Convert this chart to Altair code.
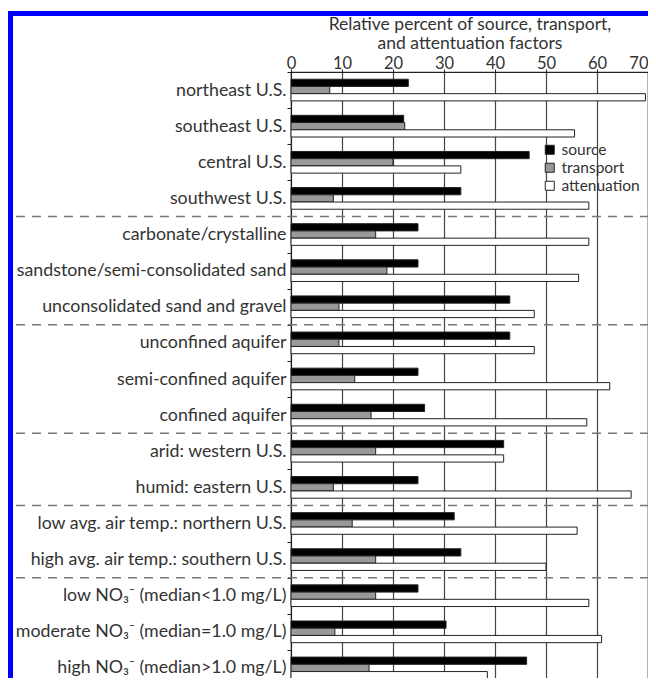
import altair as alt
import pandas as pd

categories = [
    "northeast U.S.", "southeast U.S.", "central U.S.", "southwest U.S.",
    "carbonate/crystalline", "sandstone/semi-consolidated sand", "unconsolidated sand and gravel",
    "unconfined aquifer", "semi-confined aquifer", "confined aquifer",
    "arid: western U.S.", "humid: eastern U.S.",
    "low avg. air temp.: northern U.S.", "high avg. air temp.: southern U.S.",
    "low NO\u2083\u207b (median<1.0 mg/L)", "moderate NO\u2083\u207b (median=1.0 mg/L)",
    "high NO\u2083\u207b (median>1.0 mg/L)",
]
source = [23.0, 22.1, 46.7, 33.3, 24.9, 24.9, 42.9, 42.9, 24.9, 26.2, 41.7, 24.9, 32.0, 33.3, 24.9, 30.4, 46.2]
transport = [7.6, 22.3, 20.0, 8.3, 16.6, 18.8, 9.4, 9.4, 12.5, 15.7, 16.6, 8.3, 12.0, 16.6, 16.6, 8.6, 15.3]
attenuation = [69.5, 55.6, 33.3, 58.4, 58.4, 56.4, 47.7, 47.7, 62.5, 58.0, 41.7, 66.7, 56.1, 50.0, 58.4, 60.9, 38.5]
series = ["source", "transport", "attenuation"]
fills = ["#000000", "#999999", "#ffffff"]
separators_after = [
    "southwest U.S.", "unconsolidated sand and gravel", "confined aquifer",
    "humid: eastern U.S.", "high avg. air temp.: southern U.S.",
]
x_ticks = [0, 10, 20, 30, 40, 50, 60, 70]

rows = []
for i, c in enumerate(categories):
    for s, vals in zip(series, [source, transport, attenuation]):
        rows.append({"category": c, "series": s, "value": vals[i]})
df = pd.DataFrame(rows)
sep_df = pd.DataFrame({"category": separators_after})
frame_df = pd.DataFrame({"k": [0]})

FONT = "Lato"

bars = alt.Chart(df).mark_bar(stroke="#222222", strokeWidth=1).encode(
    y=alt.Y(
        "category:N", sort=categories,
        scale=alt.Scale(domain=categories, paddingInner=0, paddingOuter=0),
        axis=alt.Axis(title=None, tickBand="extent", tickSize=4, labelPadding=1,
                      labelFontSize=17.8, labelColor="#333333", labelLimit=400,
                      domainColor="#222222", tickColor="#222222", grid=False),
    ),
    yOffset=alt.YOffset(
        "series:N", sort=series,
        scale=alt.Scale(domain=series, paddingInner=0, paddingOuter=1),
    ),
    x=alt.X(
        "value:Q",
        scale=alt.Scale(domain=[0, 70], nice=False),
        axis=alt.Axis(orient="top", values=x_ticks, grid=True, gridColor="#444444",
                      gridWidth=1.2, tickSize=3, labelPadding=1, labelFontSize=16.5,
                      labelBaseline="alphabetic",
                      labelAlign={"condition": {"test": "datum.value >= 70", "value": "right"},
                                  "value": "center"},
                      labelColor="#333333", domainColor="#222222", tickColor="#222222",
                      title=["Relative percent of source, transport,", "and attentuation factors"],
                      titleFontSize=17.5, titleFontWeight="normal", titleColor="#333333",
                      titleLineHeight=19.5, titleBaseline="alphabetic", titleY=-43),
    ),
    fill=alt.Fill(
        "series:N",
        scale=alt.Scale(domain=series, range=fills),
        legend=alt.Legend(title=None, orient="none", legendX=251, legendY=70,
                          symbolType="square", symbolSize=81, symbolStrokeColor="#222222",
                          symbolStrokeWidth=1, labelFontSize=15.5, labelColor="#333333",
                          rowPadding=1, labelOffset=4),
    ),
)

seps = alt.Chart(sep_df).mark_rule(color="#777777", strokeWidth=1.5, strokeDash=[9, 7]).encode(
    y=alt.Y("category:N", sort=categories, bandPosition=1),
    x=alt.value(-275),
    x2=alt.value(400),
)

frame = alt.Chart(frame_df).mark_rect(fillOpacity=0, stroke="#0000ff", strokeWidth=5).encode(
    x=alt.value(-280.5), x2=alt.value(420), y=alt.value(-58.5), y2=alt.value(700),
)

chart = alt.layer(bars, seps, frame).properties(
    width=357, height=614,
    autosize=alt.AutoSizeParams(type="none"),
    padding={"left": 283, "top": 64, "right": 0, "bottom": -8},
).configure(font=FONT).configure_view(stroke="#333333", strokeWidth=1.2)

chart.save("out.html", embed_options={"renderer": "svg", "actions": False})
